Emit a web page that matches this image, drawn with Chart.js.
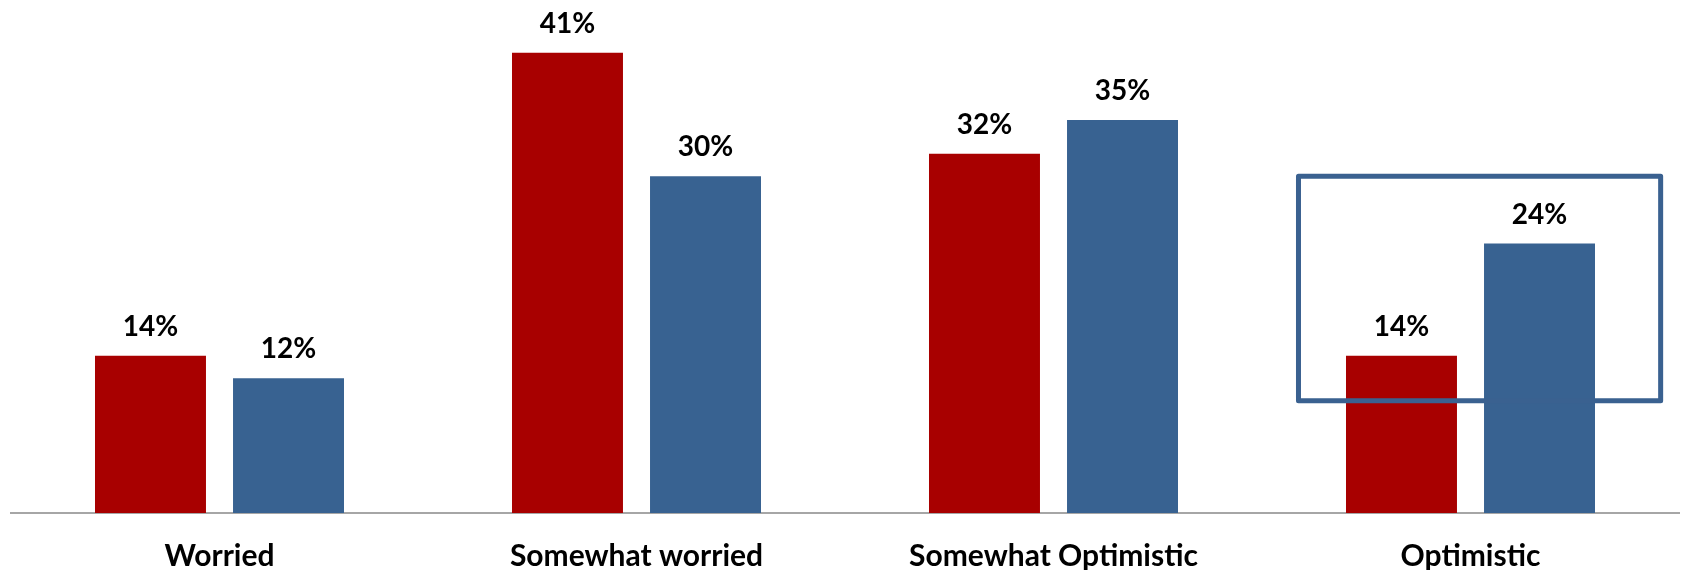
<!DOCTYPE html>
<html>
<head>
<meta charset="utf-8">
<script src="https://cdn.jsdelivr.net/npm/chart.js@4.4.1/dist/chart.umd.min.js"></script>
<style>
  html, body { margin: 0; padding: 0; background: #ffffff; }
  #wrap { width: 1681px; height: 570px; position: relative; }
</style>
</head>
<body>
<div id="wrap"><canvas id="c"></canvas></div>
<script>
const categories = ["Worried", "Somewhat worried", "Somewhat Optimistic", "Optimistic"];
const seriesRed = [14, 41, 32, 14];
const seriesBlue = [12, 30, 35, 24];
const valueLabelsRed = ["14%", "41%", "32%", "14%"];
const valueLabelsBlue = ["12%", "30%", "35%", "24%"];
// highlight box around the "Optimistic" group (category index, value range)
const highlightCategory = 3;
const highlightFrom = 10;
const highlightTo = 30;

const RED = "#A80000";
const BLUE = "#386291";
const FONT = "Lato, 'Open Sans', 'DejaVu Sans', sans-serif";

const labelPlugin = {
  id: "valueLabels",
  afterDatasetsDraw(chart) {
    const ctx = chart.ctx;
    ctx.save();
    ctx.font = "bold 28px " + FONT;
    ctx.fillStyle = "#000000";
    ctx.textAlign = "center";
    ctx.textBaseline = "middle";
    const labelSets = [valueLabelsRed, valueLabelsBlue];
    chart.data.datasets.forEach((ds, di) => {
      const meta = chart.getDatasetMeta(di);
      meta.data.forEach((bar, i) => {
        ctx.fillText(labelSets[di][i], bar.x, bar.y - 29);
      });
    });
    ctx.restore();
  }
};

const boxPlugin = {
  id: "highlightBox",
  afterDatasetsDraw(chart) {
    const xs = chart.scales.x, ys = chart.scales.y;
    const cx = xs.getPixelForValue(highlightCategory);
    const step = xs.getPixelForValue(1) - xs.getPixelForValue(0);
    const left = cx - step * 0.4125;
    const right = cx + step * 0.456;
    const top = ys.getPixelForValue(highlightTo);
    const bottom = ys.getPixelForValue(highlightFrom);
    const ctx = chart.ctx;
    ctx.save();
    ctx.strokeStyle = "#3A6190";
    ctx.lineWidth = 5;
    ctx.lineJoin = "round";
    ctx.strokeRect(left, top, right - left, bottom - top);
    ctx.restore();
  }
};

new Chart(document.getElementById("c"), {
  type: "bar",
  data: {
    labels: categories,
    datasets: [
      { data: seriesRed, backgroundColor: RED, borderWidth: 0 },
      { data: seriesBlue, backgroundColor: BLUE, borderWidth: 0 }
    ]
  },
  options: {
    responsive: true,
    maintainAspectRatio: false,
    animation: false,
    events: [],
    layout: { padding: { left: 11, right: 2, top: 0, bottom: 0 } },
    datasets: { bar: { categoryPercentage: 0.662, barPercentage: 0.804 } },
    plugins: { legend: { display: false }, tooltip: { enabled: false } },
    scales: {
      x: {
        grid: { display: false, drawTicks: false },
        border: { display: true, color: "#A6A6A6", width: 2 },
        ticks: { color: "#000000", padding: 25, font: { family: FONT, size: 30, weight: "bold", lineHeight: 1.2 }, maxRotation: 0 },
        afterFit(scale) { scale.height = 57; }
      },
      y: {
        display: false,
        min: 0,
        max: 45.7
      }
    }
  },
  plugins: [labelPlugin, boxPlugin]
});
</script>
</body>
</html>
